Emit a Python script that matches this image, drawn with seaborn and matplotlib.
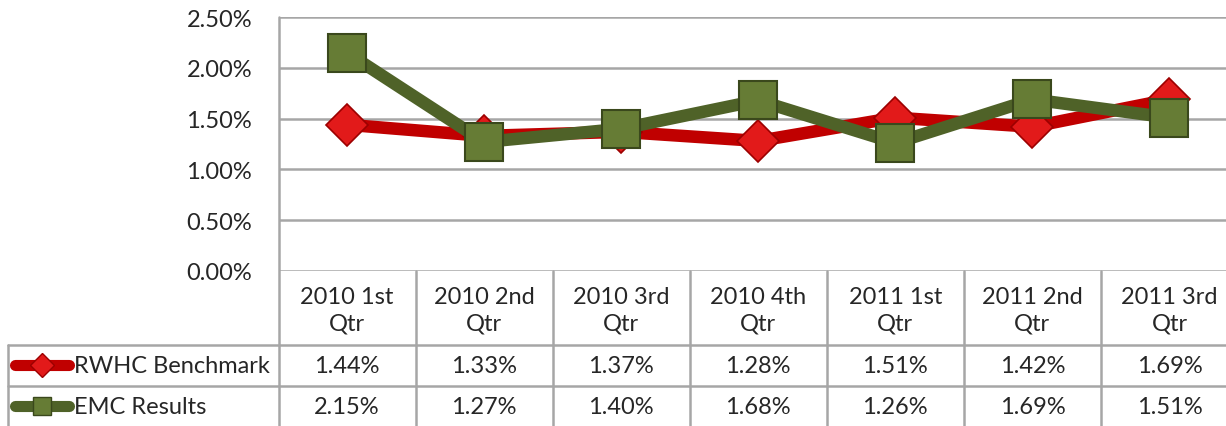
import numpy as np
import pandas as pd
import matplotlib
matplotlib.use("Agg")
import matplotlib.pyplot as plt
import matplotlib.transforms as mtransforms
import seaborn as sns

quarters = ["2010 1st\nQtr", "2010 2nd\nQtr", "2010 3rd\nQtr", "2010 4th\nQtr",
            "2011 1st\nQtr", "2011 2nd\nQtr", "2011 3rd\nQtr"]
rwhc = [1.44, 1.33, 1.37, 1.28, 1.51, 1.42, 1.69]
emc = [2.15, 1.27, 1.40, 1.68, 1.26, 1.69, 1.51]
series_names = ["RWHC Benchmark", "EMC Results"]
yticks = [0.0, 0.5, 1.0, 1.5, 2.0, 2.5]

sns.set_style("white")
plt.rcParams["font.family"] = ["Lato", "DejaVu Sans"]

W, H = 1226, 427
fig = plt.figure(figsize=(W / 100, H / 100), dpi=100)

grid_col = "#a6a6a6"
red_line, red_face, red_edge = "#c00000", "#e21a1a", "#9c0000"
grn_line, grn_face, grn_edge = "#4f6228", "#667c35", "#3a481c"
fs = 17

# pixel-space overlay for the data table
tab = fig.add_axes([0, 0, 1, 1], zorder=0)
tab.set_xlim(0, W)
tab.set_ylim(H, 0)
tab.axis("off")

# main plot area (extends past the right edge, like the cropped original)
x0, x1 = 278.5, 1238
ytop, ybot = 18.3, 271.7
ax = fig.add_axes([x0 / W, (H - ybot) / H, (x1 - x0) / W, (ybot - ytop) / H], zorder=2)
ax.patch.set_alpha(0)

xs = np.arange(len(quarters))
df = pd.DataFrame({"x": xs, "rwhc": rwhc, "emc": emc})

sns.lineplot(data=df, x="x", y="rwhc", ax=ax, color=red_line, lw=9,
             marker="D", markersize=21, markerfacecolor=red_face,
             markeredgecolor=red_edge, markeredgewidth=1.2, zorder=3)
sns.lineplot(data=df, x="x", y="emc", ax=ax, color=grn_line, lw=9,
             marker="s", markersize=27, markerfacecolor=grn_face,
             markeredgecolor=grn_edge, markeredgewidth=1.5, zorder=4)

ax.set_xlim(-0.5, len(quarters) - 0.5)
ax.set_ylim(0, 2.5)
ax.set_yticks(yticks)
ax.set_yticklabels([f"{v:.2f}%" for v in yticks], fontsize=fs)
ax.tick_params(axis="y", length=0, pad=19)
ax.set_xticks([])
ax.set_xlabel("")
ax.set_ylabel("")
for v in yticks:
    ax.axhline(v, color=grid_col, lw=1.8, zorder=1)
for s in ["top", "right", "bottom", "left"]:
    ax.spines[s].set_visible(False)

# table: x in data units of the main axes, y in pixels
tr = mtransforms.blended_transform_factory(ax.transData, tab.transData)
n = len(quarters)
row_cat, row_a = 346.0, 386.7

# vertical lines (axis line + column boundaries)
tab.plot([-0.5, -0.5], [ytop, H + 5], color=grid_col, lw=1.8, transform=tr, clip_on=False)
for i in range(n):
    tab.plot([i + 0.5, i + 0.5], [ybot, H + 5], color=grid_col, lw=1.8,
             transform=tr, clip_on=False)
# horizontal lines
for yy in [row_cat, row_a]:
    tab.plot([8, W], [yy, yy], color=grid_col, lw=1.8, clip_on=False)
tab.plot([8, 8], [row_cat, H + 5], color=grid_col, lw=1.8, clip_on=False)

ya = 367
yb = 407.5
for i, q in enumerate(quarters):
    tab.text(i, 311, q, transform=tr, ha="center", va="center",
             fontsize=fs, linespacing=1.3)
    tab.text(i, ya, f"{rwhc[i]:.2f}%", transform=tr,
             ha="center", va="center", fontsize=fs)
    tab.text(i, yb, f"{emc[i]:.2f}%", transform=tr,
             ha="center", va="center", fontsize=fs)

# legend keys inside the table
tab.plot([15, 69], [ya - 1, ya - 1], color=red_line, lw=8, solid_capstyle="round")
tab.plot([42], [ya - 1], marker="D", markersize=12, markerfacecolor=red_face,
         markeredgecolor=red_edge, markeredgewidth=1)
tab.plot([15, 69], [yb - 1, yb - 1], color=grn_line, lw=8, solid_capstyle="round")
tab.plot([42], [yb - 1], marker="s", markersize=13, markerfacecolor=grn_face,
         markeredgecolor=grn_edge, markeredgewidth=1)
tab.text(74, ya, series_names[0], ha="left", va="center", fontsize=fs)
tab.text(74, yb, series_names[1], ha="left", va="center", fontsize=fs)

fig.savefig("out.png", dpi=100)
